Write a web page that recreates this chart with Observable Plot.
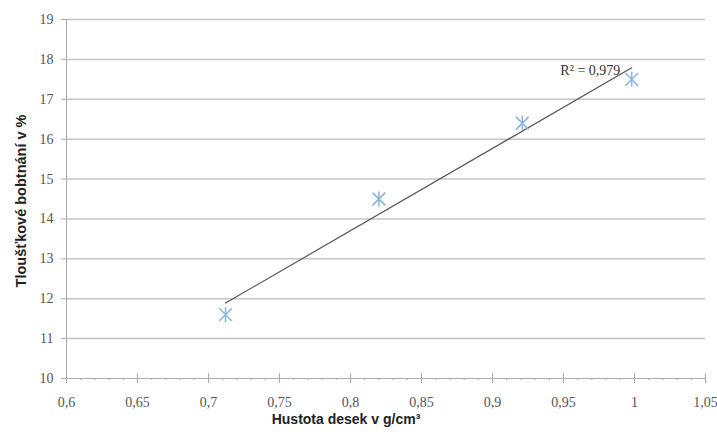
<!DOCTYPE html>
<html>
<head>
<meta charset="utf-8">
<script src="https://cdn.jsdelivr.net/npm/d3@7"></script>
<script src="https://cdn.jsdelivr.net/npm/@observablehq/plot@0.6"></script>
<style>
  html, body { margin: 0; padding: 0; background: #fff; }
  #chart svg { display: block; }
</style>
</head>
<body>
<div id="chart"></div>
<script>
// Data
const density = [0.712, 0.82, 0.921, 0.998];
const swelling = [11.6, 14.5, 16.4, 17.5];
const xTicks = [0.6, 0.65, 0.7, 0.75, 0.8, 0.85, 0.9, 0.95, 1, 1.05];
const yTicks = [10, 11, 12, 13, 14, 15, 16, 17, 18, 19];
const xMinorTicks = d3.range(60, 106).map(v => v / 100);
const r2Label = "R² = 0,979";
const xTitle = "Hustota desek v g/cm³";
const yTitle = "Tloušťkové bobtnání v %";

const data = density.map((d, i) => ({x: d, y: swelling[i]}));
const fmt = d => String(d).replace(".", ",");

const starSymbol = {
  draw(ctx, size) {
    const r = Math.sqrt(size / Math.PI);
    const a = r * 0.85;
    ctx.moveTo(0, -r); ctx.lineTo(0, r);
    ctx.moveTo(-a, -a); ctx.lineTo(a, a);
    ctx.moveTo(-a, a); ctx.lineTo(a, -a);
  }
};

const serif = "Liberation Serif";

const chart = Plot.plot({
  width: 717,
  height: 434,
  marginLeft: 66,
  marginRight: 12,
  marginTop: 19,
  marginBottom: 56,
  style: {background: "#fff", fontSize: "14px"},
  x: {domain: [0.6, 1.05]},
  y: {domain: [10, 19]},
  marks: [
    Plot.gridY(yTicks.slice(1), {stroke: "#c4c4c4", strokeOpacity: 1, strokeWidth: 1.5}),
    Plot.axisY({ticks: yTicks, tickSize: 5, stroke: "#aaa", text: null, label: null}),
    Plot.text(yTicks, {x: 0.6, y: d => d, text: fmt, textAnchor: "end", dx: -13,
      fontFamily: serif, fontSize: 14, fill: "#555"}),
    Plot.ruleX([0.6], {stroke: "#aaa", strokeWidth: 1}),
    Plot.axisX({ticks: xMinorTicks, tickSize: 2, stroke: "#aaa", text: null, label: null}),
    Plot.axisX({ticks: xTicks, tickSize: 5, stroke: "#aaa", text: null, label: null}),
    Plot.text(xTicks, {x: d => d, y: 10, text: fmt, dy: 24,
      fontFamily: serif, fontSize: 14, fill: "#555"}),
    Plot.ruleX(xTicks, {x: d => d, y1: 10, y2: 10.12, stroke: "#aaa"}),
    Plot.ruleY([10], {stroke: "#aaa", strokeWidth: 1}),
    Plot.linearRegressionY(data, {x: "x", y: "y", ci: 0, stroke: "#555", strokeWidth: 1.2}),
    Plot.dot(data, {x: "x", y: "y", symbol: starSymbol, r: 7.5, stroke: "#8fb6dc", strokeWidth: 1.6}),
    Plot.text([r2Label], {x: 0.99, y: 17.72, text: d => d, textAnchor: "end",
      fontFamily: serif, fontSize: 14, fill: "#333"}),
    Plot.text([xTitle], {frameAnchor: "bottom", text: d => d, dx: -40, dy: 45,
      fontFamily: "Liberation Sans", fontWeight: "bold", fontSize: 14, fill: "#222"}),
    Plot.text([yTitle], {frameAnchor: "left", text: d => d, rotate: -90, textAnchor: "middle",
      dx: -45, dy: 2,
      fontFamily: "Liberation Sans", fontWeight: "bold", fontSize: 14.5, fill: "#222"})
  ]
});
document.getElementById("chart").appendChild(chart);
</script>
</body>
</html>
